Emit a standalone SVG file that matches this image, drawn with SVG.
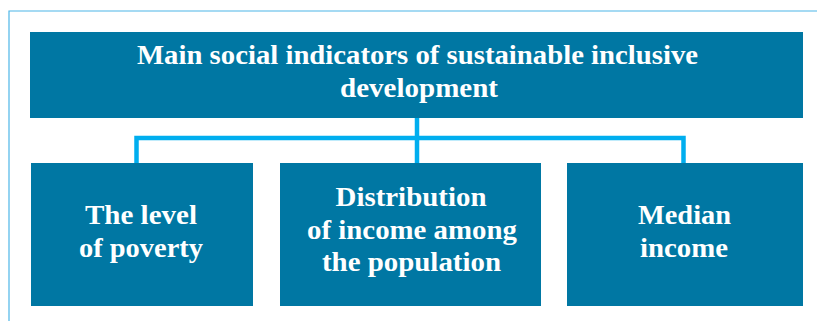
<svg xmlns="http://www.w3.org/2000/svg" width="817" height="321" viewBox="0 0 817 321">
<style>
.box{fill:#0077A3;}
.t{font-family:"Liberation Serif","DejaVu Serif",serif;font-weight:bold;fill:#ffffff;text-anchor:middle;font-size:26.5px;}
.conn{fill:none;stroke:#00AEEF;stroke-width:4.5;}
.frame{fill:none;stroke:#4DB6E8;stroke-width:1.2;}
</style>
<rect width="817" height="321" fill="#ffffff"/>
<path class="frame" d="M9,321 V11 H817"/>
<g id="connectors">
<path class="conn" d="M417,118 V163"/>
<path class="conn" d="M136.5,163 V138 H683.5 V163"/>
</g>
<g id="top">
<rect class="box" x="30" y="32" width="773" height="86"/>
<text class="t" x="417.5" y="64" textLength="561" lengthAdjust="spacingAndGlyphs">Main social indicators of sustainable inclusive</text>
<text class="t" x="419" y="96.5" textLength="158" lengthAdjust="spacingAndGlyphs">development</text>
</g>
<g id="poverty">
<rect class="box" x="31" y="163" width="222" height="143"/>
<text class="t" x="141" y="224" textLength="112" lengthAdjust="spacingAndGlyphs">The level</text>
<text class="t" x="141" y="256.5" textLength="124" lengthAdjust="spacingAndGlyphs">of poverty</text>
</g>
<g id="distribution">
<rect class="box" x="280" y="163" width="261" height="143"/>
<text class="t" x="411" y="206" textLength="151" lengthAdjust="spacingAndGlyphs">Distribution</text>
<text class="t" x="412" y="239" textLength="210" lengthAdjust="spacingAndGlyphs">of income among</text>
<text class="t" x="411.5" y="271" textLength="179" lengthAdjust="spacingAndGlyphs">the population</text>
</g>
<g id="median">
<rect class="box" x="567" y="163" width="236" height="143"/>
<text class="t" x="684.5" y="224" textLength="93" lengthAdjust="spacingAndGlyphs">Median</text>
<text class="t" x="684" y="256.5" textLength="88" lengthAdjust="spacingAndGlyphs">income</text>
</g>
</svg>
